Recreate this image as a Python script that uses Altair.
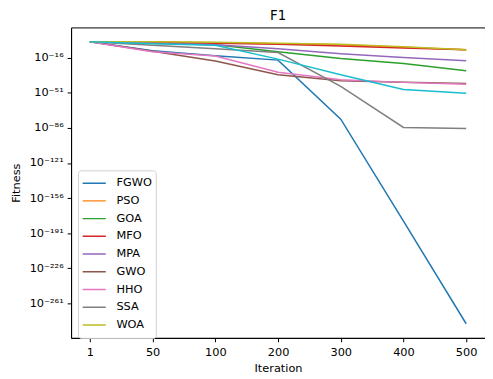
import altair as alt
import pandas as pd

iterations = ["1", "50", "100", "200", "300", "400", "500"]

FGWO = [1e0, 1e-9, 1e-14, 5e-19, 5e-78, 1e-179, 4e-282]
PSO = [1e0, 5e-1, 1e-1, 1e-2, 1e-3, 3e-6, 1e-8]
GOA = [1e0, 3e-2, 1e-3, 1e-10, 2e-17, 2e-22, 1e-29]
MFO = [1e0, 3e-1, 3e-2, 3e-3, 5e-5, 5e-7, 1e-8]
MPA = [1e0, 3e-2, 1e-3, 1e-7, 1e-12, 2e-16, 1e-19]
GWO = [1e0, 4e-10, 5e-20, 1e-33, 1e-39, 5e-41, 3e-42]
HHO = [1e0, 1e-10, 5e-15, 4e-31, 1e-38, 3e-41, 5e-43]
SSA = [1e0, 3e-4, 1e-7, 2e-11, 3e-45, 3e-86, 3e-87]
WOA = [1e0, 1e0, 3e-1, 3e-2, 3e-3, 1e-5, 1e-8]
CYAN = [1e0, 1e-2, 3e-4, 5e-18, 1e-33, 2e-48, 4e-52]

series_names = ["FGWO", "PSO", "GOA", "MFO", "MPA", "GWO", "HHO", "SSA", "WOA", "Series10"]
series_values = [FGWO, PSO, GOA, MFO, MPA, GWO, HHO, SSA, WOA, CYAN]
legend_names = series_names[:9]
colors = ["#1f77b4", "#ff7f0e", "#2ca02c", "#d62728", "#9467bd",
          "#8c564b", "#e377c2", "#7f7f7f", "#bcbd22", "#17becf"]

tick_exponents = [-16, -51, -86, -121, -156, -191, -226, -261]

sup = str.maketrans("0123456789-", "⁰¹²³⁴⁵⁶⁷⁸⁹⁻")
tick_values = [10.0 ** e for e in tick_exponents]
parts = []
for e in tick_exponents:
    lab = "10" + str(e).translate(sup)
    parts.append((10.0 ** (e - 10), lab))
expr = "''"
for thr, lab in reversed(parts):
    expr = f"datum.value > {thr!r} ? '{lab}' : ({expr})"

rows = []
for name, vals in zip(series_names, series_values):
    for it, v in zip(iterations, vals):
        rows.append({"Iteration": it, "Fitness": v, "Algorithm": name})
df = pd.DataFrame(rows)

font = "DejaVu Sans"
fs = 11.5

chart = alt.Chart(df).mark_line(strokeWidth=1.5).encode(
    x=alt.X("Iteration:O", sort=iterations,
            scale=alt.Scale(type="point", padding=0.3),
            axis=alt.Axis(title="Iteration", labelAngle=0, titlePadding=5,
                          labelPadding=5)),
    y=alt.Y("Fitness:Q",
            scale=alt.Scale(type="log", domain=[10 ** -295.5, 10 ** 14.3], nice=False),
            axis=alt.Axis(title="Fitness", values=tick_values, labelExpr=expr,
                          titlePadding=8, labelPadding=4)),
    color=alt.Color("Algorithm:N", sort=series_names,
                    scale=alt.Scale(domain=series_names, range=colors),
                    legend=alt.Legend(title=None, values=legend_names, orient="none",
                                      legendX=7, legendY=145, symbolType="stroke",
                                      symbolSize=550, symbolStrokeWidth=1.5,
                                      labelFontSize=fs, labelFont=font,
                                      labelOffset=10, clipHeight=18, rowPadding=0,
                                      padding=4, fillColor="white",
                                      strokeColor="#d0d0d0", cornerRadius=3)),
).properties(
    width=420, height=315,
    title=alt.Title("F1", fontSize=13.5, font=font, fontWeight="normal", offset=5),
    autosize=alt.AutoSizeParams(type="none"),
    padding={"left": 64, "top": 17, "right": 0, "bottom": 38},
).configure_view(
    stroke="black", strokeWidth=1
).configure_axis(
    labelFont=font, titleFont=font, labelFontSize=fs, titleFontSize=fs,
    titleFontWeight="normal", labelColor="black", titleColor="black",
    domainColor="black", tickColor="black", tickSize=4, grid=False
)

chart.save("out.html", embed_options={"renderer": "svg", "actions": False})
